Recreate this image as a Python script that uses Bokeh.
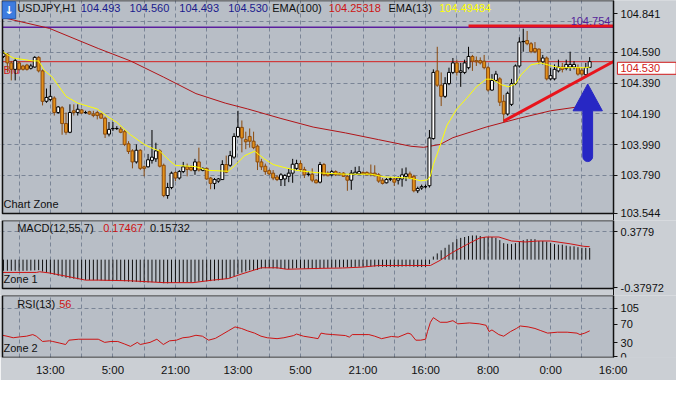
from bokeh.plotting import figure
from bokeh.models import ColumnDataSource, FixedTicker, Label, Range1d, Grid
from bokeh.layouts import column
from bokeh.embed import file_html
from bokeh.resources import INLINE

# ---------------- data ----------------
opens = [
104.564, 104.579, 104.522, 104.480, 104.522, 104.502, 104.508, 104.487, 104.495, 104.558,
104.470, 104.272, 104.283, 104.293, 104.199, 104.230, 104.127, 104.070, 104.210, 104.199,
104.216, 104.199, 104.204, 104.189, 104.199, 104.189, 104.162, 104.058, 104.095, 104.095,
104.091, 104.074, 103.995, 103.949, 103.877, 103.953, 103.845, 103.845, 103.887, 103.897,
103.949, 103.855, 103.658, 103.710, 103.808, 103.772, 103.814, 103.845, 103.841, 103.820,
103.877, 103.822, 103.835, 103.772, 103.737, 103.752, 103.762, 103.860, 103.855, 103.908,
104.043, 104.102, 104.022, 104.043, 104.012, 103.980, 103.877, 103.849, 103.820, 103.804,
103.779, 103.762, 103.766, 103.783, 103.804, 103.835, 103.866, 103.828, 103.797, 103.797,
103.758, 103.745, 103.860, 103.804, 103.793, 103.814, 103.804, 103.804, 103.783, 103.758,
103.797, 103.799, 103.808, 103.808, 103.804, 103.804, 103.793, 103.758, 103.741, 103.766,
103.766, 103.758, 103.766, 103.783, 103.799, 103.783, 103.689, 103.707, 103.716, 103.722,
104.029, 104.470, 104.377, 104.304, 104.387, 104.460, 104.522, 104.460, 104.460, 104.491,
104.564, 104.537, 104.537, 104.533, 104.491, 104.345, 104.408, 104.418, 104.272, 104.189,
104.252, 104.387, 104.502, 104.662, 104.668, 104.647, 104.616, 104.612, 104.529, 104.554,
104.418, 104.418, 104.470, 104.495, 104.487, 104.495, 104.495, 104.491, 104.474, 104.445,
104.493]
highs = [
104.605, 104.585, 104.535, 104.554, 104.535, 104.510, 104.516, 104.516, 104.566, 104.566,
104.479, 104.355, 104.377, 104.304, 104.241, 104.241, 104.199, 104.252, 104.252, 104.252,
104.222, 104.210, 104.210, 104.210, 104.210, 104.197, 104.172, 104.137, 104.137, 104.110,
104.105, 104.085, 104.012, 103.960, 103.991, 103.960, 103.854, 103.929, 104.085, 104.002,
103.960, 103.866, 103.741, 103.814, 103.816, 103.824, 103.877, 103.866, 103.854, 103.897,
103.970, 103.841, 103.841, 103.779, 103.772, 103.772, 103.888, 103.918, 103.949, 104.064,
104.210, 104.147, 104.074, 104.095, 104.074, 103.991, 103.897, 103.866, 103.828, 103.824,
103.791, 103.804, 103.797, 103.835, 103.897, 103.891, 103.887, 103.845, 103.814, 103.835,
103.766, 103.877, 103.870, 103.816, 103.824, 103.822, 103.810, 103.810, 103.791, 103.824,
103.845, 103.849, 103.816, 103.816, 103.860, 103.855, 103.804, 103.772, 103.772, 103.779,
103.772, 103.783, 103.835, 103.841, 103.814, 103.793, 103.716, 103.729, 103.729, 104.085,
104.480, 104.627, 104.460, 104.429, 104.491, 104.554, 104.543, 104.522, 104.543, 104.627,
104.574, 104.564, 104.558, 104.574, 104.502, 104.449, 104.470, 104.429, 104.314, 104.335,
104.418, 104.512, 104.689, 104.745, 104.730, 104.658, 104.658, 104.616, 104.574, 104.564,
104.491, 104.512, 104.543, 104.522, 104.543, 104.595, 104.533, 104.512, 104.491, 104.522,
104.560]
lows = [
104.554, 104.460, 104.408, 104.408, 104.472, 104.472, 104.472, 104.479, 104.491, 104.460,
104.245, 104.262, 104.272, 104.179, 104.191, 104.054, 104.054, 104.064, 104.179, 104.179,
104.191, 104.191, 104.185, 104.168, 104.154, 104.160, 104.033, 104.043, 104.078, 104.085,
104.064, 103.980, 103.929, 103.835, 103.866, 103.824, 103.783, 103.841, 103.866, 103.877,
103.841, 103.647, 103.637, 103.699, 103.752, 103.762, 103.804, 103.783, 103.816, 103.793,
103.814, 103.816, 103.760, 103.699, 103.699, 103.741, 103.760, 103.804, 103.845, 103.897,
104.033, 103.939, 103.960, 103.970, 103.960, 103.824, 103.824, 103.793, 103.791, 103.758,
103.752, 103.720, 103.720, 103.745, 103.741, 103.824, 103.814, 103.772, 103.783, 103.745,
103.737, 103.737, 103.783, 103.783, 103.783, 103.785, 103.791, 103.779, 103.689, 103.695,
103.793, 103.793, 103.793, 103.791, 103.783, 103.783, 103.741, 103.730, 103.737, 103.752,
103.720, 103.730, 103.716, 103.752, 103.766, 103.679, 103.674, 103.695, 103.704, 103.710,
104.022, 104.366, 104.241, 104.293, 104.377, 104.449, 104.439, 104.366, 104.449, 104.480,
104.470, 104.502, 104.512, 104.480, 104.335, 104.341, 104.397, 104.241, 104.137, 104.179,
104.241, 104.377, 104.491, 104.595, 104.637, 104.585, 104.585, 104.512, 104.512, 104.408,
104.408, 104.408, 104.460, 104.460, 104.474, 104.470, 104.480, 104.439, 104.433, 104.439,
104.493]
closes = [
104.585, 104.522, 104.480, 104.537, 104.480, 104.480, 104.480, 104.502, 104.558, 104.470,
104.272, 104.297, 104.304, 104.199, 104.235, 104.127, 104.070, 104.199, 104.199, 104.220,
104.195, 104.198, 104.189, 104.179, 104.179, 104.162, 104.058, 104.089, 104.093, 104.094,
104.070, 103.991, 103.945, 103.877, 103.953, 103.835, 103.835, 103.891, 103.908, 103.949,
103.849, 103.658, 103.710, 103.804, 103.772, 103.814, 103.845, 103.828, 103.824, 103.877,
103.824, 103.835, 103.766, 103.737, 103.762, 103.766, 103.860, 103.810, 103.918, 104.043,
104.102, 104.033, 104.008, 104.012, 103.970, 103.877, 103.845, 103.814, 103.799, 103.772,
103.762, 103.793, 103.789, 103.804, 103.862, 103.866, 103.828, 103.793, 103.796, 103.758,
103.741, 103.860, 103.793, 103.787, 103.814, 103.793, 103.793, 103.783, 103.758, 103.804,
103.810, 103.814, 103.799, 103.793, 103.793, 103.787, 103.752, 103.737, 103.762, 103.765,
103.745, 103.772, 103.793, 103.799, 103.772, 103.689, 103.704, 103.716, 103.715, 104.033,
104.460, 104.377, 104.304, 104.387, 104.460, 104.522, 104.460, 104.470, 104.522, 104.564,
104.533, 104.529, 104.522, 104.491, 104.345, 104.408, 104.449, 104.266, 104.189, 104.324,
104.387, 104.502, 104.658, 104.660, 104.647, 104.595, 104.595, 104.533, 104.554, 104.418,
104.439, 104.480, 104.495, 104.480, 104.512, 104.512, 104.512, 104.449, 104.449, 104.491,
104.530]

ema13_x = [-0.25, 0, 2.5, 7.5, 9, 10.5, 12.5, 16, 19, 24, 27, 29, 32.5, 36, 37.5, 40, 42.5, 44, 49,
           52.5, 57.5, 59.25, 61.75, 64.25, 66.75, 69, 71.75, 75, 79, 81.75, 87.5, 94, 97.5, 104,
           106.75, 108.5, 109.25, 110, 111, 113.5, 116, 118.5, 121, 123.5, 125, 127.5, 129.25, 131,
           132.5, 135, 137.5, 140, 142.5, 146, 149, 150]
ema13_p = [104.600, 104.591, 104.554, 104.535, 104.535, 104.472, 104.429, 104.304, 104.260, 104.222,
           104.166, 104.135, 104.054, 103.991, 103.972, 103.947, 103.885, 103.854, 103.847,
           103.822, 103.816, 103.855, 103.918, 103.947, 103.897, 103.860, 103.841, 103.822, 103.810,
           103.804, 103.797, 103.797, 103.779, 103.772, 103.754, 103.760, 103.785, 103.860, 103.929,
           104.116, 104.222, 104.291, 104.366, 104.416, 104.416, 104.379, 104.366, 104.385,
           104.447, 104.510, 104.522, 104.504, 104.491, 104.491, 104.491, 104.495]

ema100_x = [-0.25, 11.75, 24.25, 32.5, 41, 49.25, 56.75, 62.5, 71, 79.25, 87.5, 96, 104.25, 107.5,
            111.75, 115, 123.5, 131.75, 140, 148.5, 150]
ema100_p = [104.818, 104.747, 104.616, 104.535, 104.429, 104.322, 104.260, 104.222, 104.160, 104.104,
            104.066, 104.022, 103.979, 103.972, 103.991, 104.035, 104.104, 104.160, 104.210, 104.241,
            104.253]

macd_hist = [
-0.150, -0.150, -0.151, -0.150, -0.151, -0.152, -0.150, -0.148, -0.145, -0.142,
-0.160, -0.175, -0.190, -0.205, -0.218, -0.232, -0.245, -0.252, -0.258, -0.265,
-0.270, -0.273, -0.275, -0.277, -0.278, -0.280, -0.285, -0.288, -0.288, -0.287,
-0.287, -0.292, -0.297, -0.302, -0.300, -0.305, -0.310, -0.308, -0.305, -0.303,
-0.307, -0.318, -0.320, -0.315, -0.313, -0.310, -0.306, -0.305, -0.303, -0.300,
-0.295, -0.292, -0.292, -0.290, -0.285, -0.280, -0.270, -0.262, -0.250, -0.225,
-0.195, -0.175, -0.160, -0.145, -0.140, -0.140, -0.120, -0.115, -0.115, -0.118,
-0.120, -0.125, -0.127, -0.127, -0.120, -0.115, -0.118, -0.122, -0.124, -0.126,
-0.128, -0.115, -0.113, -0.112, -0.110, -0.108, -0.106, -0.104, -0.104, -0.100,
-0.098, -0.096, -0.095, -0.094, -0.093, -0.093, -0.095, -0.097, -0.098, -0.098,
-0.098, -0.097, -0.094, -0.092, -0.092, -0.097, -0.100, -0.100, -0.098, -0.060,
0.042, 0.084, 0.126, 0.160, 0.202, 0.235, 0.277, 0.294, 0.306, 0.319,
0.327, 0.327, 0.319, 0.306, 0.306, 0.306, 0.294, 0.264, 0.223, 0.214,
0.210, 0.223, 0.243, 0.264, 0.277, 0.277, 0.277, 0.252, 0.252, 0.243,
0.223, 0.210, 0.202, 0.202, 0.189, 0.180, 0.180, 0.168, 0.160, 0.160,
0.157]
signal_x = [-0.25, 8.4, 9.25, 11.75, 16, 21, 24.25, 32.5, 41, 48.5, 53.5, 57.5, 61, 66, 70, 72.5,
            81.75, 86.75, 91.75, 96, 109.25, 111.75, 115, 118.5, 121.75, 123.5, 126.75, 130, 133.5,
            136.75, 140, 145, 148.5, 150]
signal_v = [-0.173, -0.173, -0.164, -0.180, -0.223, -0.277, -0.277, -0.286, -0.311, -0.311, -0.277,
            -0.256, -0.193, -0.110, -0.110, -0.130, -0.117, -0.113, -0.101, -0.079, -0.079, -0.009,
            0.101, 0.202, 0.290, 0.306, 0.306, 0.252, 0.239, 0.252, 0.252, 0.214, 0.180, 0.175]

rsi_x = [-0.25, 0.9, 2.5, 4.25, 5.9, 7.5, 8.4, 10, 11.75, 12.6, 14.25, 15.9, 16.75, 19.25, 24.25,
         25.9, 27.5, 29.25, 30.9, 32.5, 34.25, 35, 37.5, 39.25, 40.9, 42.5, 44.25, 45.9, 47.5, 49.25,
         50.9, 52.5, 54.25, 55.9, 57.5, 59.25, 60.9, 62.5, 64.25, 65.9, 67.5, 70, 71.75, 74.25, 75,
         76.75, 79.25, 80.5, 81.25, 82.5, 84.25, 87.5, 88.5, 89.25, 93.5, 95, 96.75, 99.25, 101,
         103.5, 104.25, 105.5, 106.75, 108, 108.5, 109.25, 110, 111.75, 113.5, 115, 116.25, 119.25,
         121.75, 123.5, 124.25, 125, 126.75, 128, 129.75, 131.25, 132.25, 134.25, 136, 137.5, 139.25,
         141.75, 144.25, 146.75, 147.5, 148.75, 150]
rsi_v = [46.4, 44.4, 41.0, 43.0, 44.4, 47.9, 44.4, 32.9, 34.3, 32.9, 29.7, 26.3, 35.7, 37.8, 37.8,
         30.9, 32.9, 32.9, 27.7, 22.2, 30.9, 26.3, 30.9, 37.8, 26.3, 34.3, 35.7, 41.0, 42.4, 46.4,
         44.4, 35.7, 39.8, 47.9, 55.9, 64.6, 61.2, 55.9, 51.1, 44.4, 41.0, 39.0, 41.0, 45.8, 49.1,
         44.4, 41.0, 39.0, 51.1, 49.1, 47.9, 45.8, 42.4, 47.9, 47.9, 44.4, 39.0, 43.8, 42.4,
         51.1, 49.1, 35.7, 35.7, 37.8, 54.5, 74.7, 84.8, 74.7, 74.7, 78.2, 71.3, 73.3,
         71.3, 68.1, 54.5, 58.0, 47.9, 44.4, 54.5, 61.2, 66.6, 64.6, 61.2, 56.5, 51.1,
         53.1, 53.1, 51.1, 47.9, 51.1, 56.0]

# drawn objects (bar index, price)
bid_price = 104.530
bid_label = "104.530"
level_price = 104.754
resist_x = [119, 156.1]
resist_p = [104.762, 104.762]
trend_x = [128, 156.1]
trend_p = [104.143, 104.531]
arrow_x = [149.5, 153.25, 150.75, 150.75, 150.6, 150.1, 149.5, 148.9, 148.4, 148.25, 148.25, 145.75]
arrow_p = [104.385, 104.210, 104.210, 103.910, 103.895, 103.883, 103.879, 103.883, 103.895, 103.910,
           104.210, 104.210]

price_ticks = [103.544, 103.790, 103.990, 104.190, 104.390, 104.590, 104.841]
price_labels = ["103.544", "103.790", "103.990", "104.190", "104.390", "104.590", "104.841"]
price_grid = [103.790, 103.990, 104.190, 104.390, 104.590, 104.790]
macd_ticks = [-0.37972, 0.3779]
macd_labels = ["-0.37972", "0.3779"]
rsi_ticks = [0, 30, 70, 105]
rsi_labels = ["0", "30", "70", "105"]
time_grid = [4, 12, 20, 28, 36, 44, 52, 60, 68, 76, 84, 92, 100, 108, 116, 124, 132, 140, 148]
time_ticks = [12, 28, 44, 60, 76, 92, 108, 124, 140, 156]
time_labels = ["13:00", "5:00", "21:00", "13:00", "5:00", "21:00", "16:00", "8:00", "0:00", "16:00"]

# ---------------- layout constants ----------------
FONT = "Liberation Sans"
BG = "#b8bec6"
BORDER = "#cbcfd4"
GRIDC = "#7a8596"
W = 676
PX = 3.908                 # pixels per bar
X_LEFT = -0.25             # left edge of plotting area
X_RIGHT = 156.1            # right edge of plotting area (price scale starts here)
X0 = X_LEFT - 2 / PX
X1 = X0 + W / PX

idx = list(range(len(closes)))
doji = [abs(c - o) < 0.0025 for o, c in zip(opens, closes)]
bull = [c >= o for o, c in zip(opens, closes)]
src = ColumnDataSource(dict(
    x=idx, high=highs, low=lows,
    top=[max(o, c) for o, c in zip(opens, closes)],
    bot=[min(o, c) for o, c in zip(opens, closes)],
    fill=["#000000" if d else ("#ffffff" if b else "#e2901a") for d, b in zip(doji, bull)],
    line=["#000000" if (d or b) else "#8a4a0e" for d, b in zip(doji, bull)],
))

xr = Range1d(X0, X1)


def make(height, y0, y1, axis_below=False):
    fig = figure(width=W, height=height, x_range=xr, y_range=Range1d(y0, y1),
                 y_axis_location="right", x_axis_location="below" if axis_below else None,
                 output_backend="svg", toolbar_location=None,
                 min_border_left=0, min_border_right=0, min_border_top=0,
                 min_border_bottom=23 if axis_below else 0)
    fig.background_fill_color = BG
    fig.border_fill_color = BORDER
    fig.outline_line_color = None
    fig.grid.visible = False
    ax = fig.yaxis[0]
    ax.fixed_location = X_RIGHT
    ax.axis_line_color = "#111111"
    ax.major_tick_out = 4
    ax.major_tick_in = 0
    ax.minor_tick_out = 0
    ax.minor_tick_in = 0
    ax.major_tick_line_color = "#111111"
    ax.major_label_text_font = FONT
    ax.major_label_text_font_size = "11px"
    ax.major_label_text_color = "#111111"
    ax.major_label_standoff = 3
    return fig


def frame_decor(fig, y0, y1, area_bottom, area_top):
    # surrounding (non-plotting) areas and the black panel border
    fig.quad(left=[X_RIGHT, X0, X0], right=[X1, X_LEFT, X1], bottom=[y0, y0, y0],
             top=[y1, y1, area_bottom], fill_color=BORDER, line_color=None, level="glyph")
    fig.quad(left=[X_LEFT], right=[X_RIGHT], bottom=[area_bottom], top=[area_top],
             fill_color=None, line_color="#111111", line_width=1.5)


def add_grid(fig, dim, ticks):
    fig.add_layout(Grid(dimension=dim, ticker=FixedTicker(ticks=ticks), grid_line_color=GRIDC,
                        grid_line_dash="4 3", grid_line_width=1), "center")


def lab(fig, x, y, text, color="#111111", align="left", baseline="middle", **kw):
    fig.add_layout(Label(x=x, y=y, text=text, text_color=color, text_align=align,
                         text_baseline=baseline, text_font=FONT, text_font_size="11px", **kw))


# ---------------- main chart ----------------
P_BOT, P_TOP = 103.541, 104.9285
P_Y0 = P_BOT - 7 * (P_TOP - P_BOT) / 213
p = make(220, P_Y0, P_TOP)
p.yaxis.ticker = FixedTicker(ticks=price_ticks)
p.yaxis.major_label_overrides = dict(zip(price_ticks, price_labels))
add_grid(p, 0, time_grid)
add_grid(p, 1, price_grid)

lab(p, 0, 104.4785, "Bid", color="#d01818", level="underlay")
p.line([X_LEFT, X_RIGHT], [level_price, level_price], line_color="#5a1f9e", line_width=1.5)
p.line([X_LEFT, X_RIGHT], [bid_price, bid_price], line_color="#d42020", line_width=1)
p.line(ema100_x, ema100_p, line_color="#b01418", line_width=1)
p.segment(x0="x", y0="low", x1="x", y1="high", line_color="line", line_width=1, source=src)
p.vbar(x="x", width=0.75, top="top", bottom="bot", fill_color="fill", line_color="line",
       line_width=1, source=src)
p.line(ema13_x, ema13_p, line_color="#ffff00", line_width=1)
p.line(resist_x, resist_p, line_color="#e8141c", line_width=3)
p.line(trend_x, trend_p, line_color="#e8141c", line_width=3)
p.patch(arrow_x, arrow_p, fill_color="#2727c4", line_color="#2727c4", line_width=1)
frame_decor(p, P_Y0, P_TOP, P_BOT, P_TOP)

hy = 104.8785
p.add_layout(Label(x=-0.25, y=104.921, text="\u2193", text_color="white", text_align="left",
                   text_baseline="top", text_font="DejaVu Sans", text_font_size="11px",
                   text_font_style="bold", background_fill_color="#3d7ce0",
                   border_line_color="#2a5db0", padding=2))
lab(p, 3.5, hy, "USDJPY,H1")
lab(p, 19.75, hy, "104.493", color="#1a1a8c")
lab(p, 32.25, hy, "104.560", color="#1a1a8c")
lab(p, 45, hy, "104.493", color="#1a1a8c")
lab(p, 57.5, hy, "104.530", color="#1a1a8c")
lab(p, 68.75, hy, "EMA(100)")
lab(p, 83.25, hy, "104.25318", color="#cc1414")
lab(p, 98.5, hy, "EMA(13)")
lab(p, 111.5, hy, "104.49484", color="#ffff00")
lab(p, 155.3, 104.770, "104.754", color="#55249a", align="right", baseline="bottom")
lab(p, 0, 103.6035, "Chart Zone")
# current-price box on the price scale
box = Label(x=X_RIGHT + 1.0, y=bid_price - 0.004, text=bid_label, text_color="#d01818",
            text_align="left", text_baseline="top", text_font=FONT, text_font_size="11px",
            background_fill_color="white", border_line_color="#d01818", padding=2)
try:
    box.padding = dict(left=3, right=16, top=2, bottom=2)
except Exception:
    box.padding = 2
p.add_layout(box)

# ---------------- MACD ----------------
M_BOT, M_TOP = -0.39, 0.529
M_Y0 = M_BOT - 7 * (M_TOP - M_BOT) / 68
m = make(75, M_Y0, M_TOP)
m.yaxis.ticker = FixedTicker(ticks=macd_ticks)
m.yaxis.major_label_overrides = dict(zip(macd_ticks, macd_labels))
add_grid(m, 0, time_grid)
add_grid(m, 1, [0.3779])
m.segment(x0=idx, y0=[0] * len(idx), x1=idx, y1=macd_hist, line_color="#111111", line_width=1)
m.line(signal_x, signal_v, line_color="#cc1414", line_width=1)
frame_decor(m, M_Y0, M_TOP, M_BOT, M_TOP)
my = 0.428
lab(m, 3.5, my, "MACD(12,55,7)")
lab(m, 25.5, my, "0.17467", color="#cc1414")
lab(m, 37.5, my, "0.15732")
lab(m, 0, -0.264, "Zone 1")

# ---------------- RSI ----------------
R_BOT, R_TOP = -2, 133
r = make(85, R_BOT, R_TOP, axis_below=True)
r.yaxis.ticker = FixedTicker(ticks=rsi_ticks)
r.yaxis.major_label_overrides = dict(zip(rsi_ticks, rsi_labels))
xa = r.xaxis[0]
xa.ticker = FixedTicker(ticks=time_ticks)
xa.major_label_overrides = dict(zip(time_ticks, time_labels))
xa.axis_line_color = None
xa.major_tick_out = 0
xa.major_tick_in = 0
xa.minor_tick_out = 0
xa.major_label_text_font = FONT
xa.major_label_text_font_size = "11.5px"
xa.major_label_text_color = "#111111"
xa.major_label_standoff = 6
add_grid(r, 0, time_grid)
add_grid(r, 1, [105])
r.line(rsi_x, rsi_v, line_color="#cc1414", line_width=1)
frame_decor(r, R_BOT, R_TOP, R_BOT, R_TOP)
lab(r, 3.5, 115, "RSI(13)")
lab(r, 14.25, 115, "56", color="#cc1414")
lab(r, 0, 18, "Zone 2")

layout = column(p, m, r)
open("out.html", "w").write(file_html(layout, INLINE))
